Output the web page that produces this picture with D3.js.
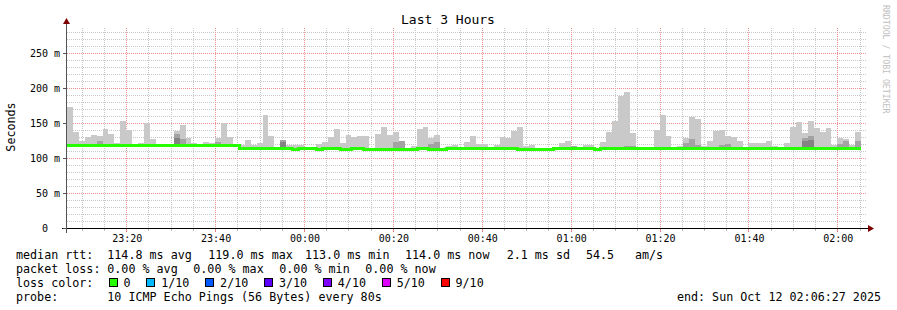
<!DOCTYPE html>
<html>
<head>
<meta charset="utf-8">
<script src="https://cdn.jsdelivr.net/npm/d3@7"></script>
<style>
  html, body { margin: 0; padding: 0; background: #ffffff; }
  svg text { font-family: "DejaVu Sans Mono", monospace; white-space: pre; }
</style>
</head>
<body>
<div id="container"></div>
<script>
"use strict";

// ---- data ----
const endTime = new Date(Date.UTC(2025, 9, 12, 2, 6, 27));
const stepSeconds = 80;
const spanSeconds = 3 * 3600;

// top of the smoke (slowest ping) per 80 s step, ms
const rttMax = [
  173, 137, 124, 130, 133, 131, 141, 134, 122, 153, 140, 120, 122, 150, 127, 120,
  120, 120, 139, 147, 129, 122, 120, 123, 121, 129, 150, 130, 120, 118, 126, 119,
  121, 162, 131, 116, 126, 119, 118, 119, 116, 116, 120, 123, 130, 141, 121, 133,
  130, 131, 131, 115, 134, 144, 133, 137, 124, 115, 117, 141, 144, 129, 133, 115,
  117, 118, 114, 123, 131, 120, 120, 114, 118, 130, 129, 139, 144, 117, 118, 114,
  114, 115, 115, 121, 124, 117, 115, 118, 118, 114, 123, 137, 153, 189, 194, 136,
  114, 115, 115, 140, 161, 131, 115, 117, 129, 159, 156, 117, 124, 139, 140, 131,
  130, 124, 114, 121, 121, 121, 124, 117, 115, 121, 144, 151, 136, 153, 143, 137,
  143, 118, 129, 127, 118, 137
];

// inner smoke band top (middle pings), ms; null where not visible
const rttInner = [
  null, null, null, null, null, 124, null, null, null, null, null, null, null, null, null, null,
  null, null, 134, 127, null, null, null, null, null, 123, null, null, null, null, null, null,
  null, null, null, null, 126, null, null, null, null, null, null, null, null, null, null, null,
  null, null, null, null, null, null, null, 123, 124, null, null, null, null, 120, 123, null,
  null, null, null, null, null, null, null, null, null, null, null, null, null, null, null, null,
  null, null, null, null, null, 117, null, null, null, null, null, null, null, null, 117, 117,
  null, null, null, null, null, null, null, null, 122, 127, 119, null, null, null, 118, 120,
  null, null, null, null, null, null, null, null, null, null, null, null, 129, 131, null, null,
  null, null, 120, 124, null, 124
];

// darkest core band top, ms; null where not visible
const rttCore = [
  null, null, null, null, null, null, null, null, null, null, null, null, null, null, null, null,
  null, null, 128, null, null, null, null, null, null, null, null, null, null, null, null, null,
  null, null, null, null, 123, null, null, null, null, null, null, null, null, null, null, null,
  null, null, null, null, null, null, null, null, null, null, null, null, null, null, null, null,
  null, null, null, null, null, null, null, null, null, null, null, null, null, null, null, null,
  null, null, null, null, null, null, null, null, null, null, null, null, null, null, null, null,
  null, null, null, null, null, null, null, null, null, null, null, null, null, null, null, null,
  null, null, null, null, null, null, null, null, null, null, null, null, 124, 126, null, null,
  null, null, null, null, null, null
];

// median rtt per step, ms
const rttMedian = [
  119, 118, 118, 118, 118, 118, 118, 119, 119, 118, 118, 118, 119, 118, 118, 119,
  118, 118, 118, 119, 119, 118, 118, 119, 118, 118, 119, 118, 118, 114, 114, 114,
  114, 114, 114, 114, 114, 114, 113, 114, 114, 114, 113, 114, 114, 114, 113, 113,
  114, 114, 113, 113, 113, 113, 113, 113, 113, 113, 113, 114, 114, 113, 113, 113,
  114, 114, 114, 114, 114, 114, 114, 114, 114, 114, 114, 115, 113, 113, 113, 113,
  113, 113, 114, 114, 114, 114, 114, 114, 114, 113, 115, 115, 115, 115, 115, 115,
  115, 115, 115, 115, 115, 115, 114, 115, 115, 115, 115, 115, 115, 115, 114, 115,
  115, 115, 115, 115, 115, 115, 115, 115, 115, 115, 115, 115, 115, 115, 115, 115,
  115, 115, 115, 115, 115, 114
];

const yTicks = [0, 50, 100, 150, 200, 250];
const yTickLabels = ["0  ", "50 m", "100 m", "150 m", "200 m", "250 m"];

const medianStats = ["114.8 ms avg", "119.0 ms max", "113.0 ms min", "114.0 ms now", "2.1 ms sd", "54.5", "am/s"];
const lossStats = ["0.00 % avg", "0.00 % max", "0.00 % min", "0.00 % now"];
const lossLabels = ["0", "1/10", "2/10", "3/10", "4/10", "5/10", "9/10"];
const lossColors = ["#26ff00", "#00b8ff", "#0059ff", "#5e00ff", "#7e00ff", "#dd00ff", "#ff0000"];
const probeText = "10 ICMP Echo Pings (56 Bytes) every 80s";
const endText = "end: Sun Oct 12 02:06:27 2025";

// ---- layout ----
const width = 897, height = 310;
const plot = { left: 66, right: 866, top: 28, bottom: 228 };
const yMax = 200 / 0.7; // 0.7 px per ms
const gridColor = "#c8c8c8";
const mgridColor = "#ec9090";
const arrowColor = "#7f0000";
const legendFont = 11.7;

const startTime = new Date(endTime.getTime() - spanSeconds * 1000);
const stepTime = (i) => new Date(startTime.getTime() + i * stepSeconds * 1000);

const x = d3.scaleUtc().domain([startTime, endTime]).range([plot.left, plot.right]);
const y = d3.scaleLinear().domain([0, yMax]).range([plot.bottom, plot.top]);

const svg = d3.select("#container").append("svg").attr("width", width).attr("height", height);

// Grid: minor first, then major. Horizontal before vertical.
const grid = svg.append("g")
  .attr("stroke-width", 1)
  .attr("stroke-dasharray", "1,1")
  .attr("shape-rendering", "crispEdges");
const minorTimes = x.ticks(d3.utcMinute.every(5));
const majorTimes = x.ticks(d3.utcMinute.every(20));
const isMajorTime = (t) => t.getUTCMinutes() % 20 === 0;
const px = (v) => Math.round(v) + 0.5;

const yMinor = d3.range(10, yMax, 10).filter((v) => v % 50 !== 0);
grid.selectAll(".hminor")
  .data(yMinor)
  .enter().append("line")
  .attr("x1", plot.left + 1).attr("x2", plot.right)
  .attr("y1", (d) => px(y(d))).attr("y2", (d) => px(y(d)))
  .attr("stroke", gridColor);

grid.selectAll(".vminor")
  .data(minorTimes.filter((t) => !isMajorTime(t)))
  .enter().append("line")
  .attr("x1", (d) => px(x(d))).attr("x2", (d) => px(x(d)))
  .attr("y1", plot.top).attr("y2", plot.bottom)
  .attr("stroke", gridColor);

grid.selectAll(".hmajor")
  .data(yTicks.filter((v) => v > 0))
  .enter().append("line")
  .attr("x1", plot.left + 1).attr("x2", plot.right)
  .attr("y1", (d) => px(y(d))).attr("y2", (d) => px(y(d)))
  .attr("stroke", mgridColor);

grid.selectAll(".vmajor")
  .data(majorTimes)
  .enter().append("line")
  .attr("x1", (d) => px(x(d))).attr("x2", (d) => px(x(d)))
  .attr("y1", plot.top).attr("y2", plot.bottom)
  .attr("stroke", mgridColor);

// Smoke bands.
const steps = rttMax.map((v, i) => ({
  t0: stepTime(i), t1: stepTime(i + 1),
  max: v, inner: rttInner[i], core: rttCore[i], med: rttMedian[i]
}));

function drawBand(key, color) {
  svg.append("g")
    .attr("shape-rendering", "crispEdges")
    .selectAll("rect")
    .data(steps.filter((d) => d[key] != null && d[key] > d.med))
    .enter().append("rect")
    .attr("x", (d) => Math.round(x(d.t0)) + 1)
    .attr("width", (d) => Math.round(x(d.t1)) - Math.round(x(d.t0)))
    .attr("y", (d) => Math.round(y(d[key])))
    .attr("height", (d) => Math.round(y(d.med)) - Math.round(y(d[key])))
    .attr("fill", color);
}
drawBand("max", "#c9c9c9");
drawBand("inner", "#a3a3a3");
drawBand("core", "#838383");

// Median line (all steps had 0 loss).
const medianPts = steps.map((d) => [d.t0, d.med]);
medianPts.push([steps[steps.length - 1].t1, steps[steps.length - 1].med]);
svg.append("path")
  .datum(medianPts)
  .attr("fill", "none")
  .attr("stroke", lossColors[0])
  .attr("stroke-width", 3)
  .attr("shape-rendering", "crispEdges")
  .attr("d", d3.line().x((d) => Math.round(x(d[0])) + 1).y((d) => Math.round(y(d[1])) + 0.5).curve(d3.curveStepAfter));

// Axes.
svg.append("line")
  .attr("x1", plot.left - 4).attr("x2", plot.right + 3)
  .attr("y1", plot.bottom + 0.5).attr("y2", plot.bottom + 0.5)
  .attr("stroke", "#000").attr("stroke-width", 1);
svg.append("line")
  .attr("x1", plot.left + 0.5).attr("x2", plot.left + 0.5)
  .attr("y1", plot.bottom + 5).attr("y2", plot.top - 4)
  .attr("stroke", "#555").attr("stroke-width", 1);
svg.append("path")
  .attr("d", `M${plot.right + 2},${plot.bottom - 3} L${plot.right + 8},${plot.bottom + 0.5} L${plot.right + 2},${plot.bottom + 4} Z`)
  .attr("fill", arrowColor);
svg.append("path")
  .attr("d", `M${plot.left - 3},${plot.top - 4} L${plot.left + 0.5},${plot.top - 10} L${plot.left + 4},${plot.top - 4} Z`)
  .attr("fill", arrowColor);

// Tick marks.
svg.selectAll(".xtick")
  .data(minorTimes)
  .enter().append("line")
  .attr("x1", (d) => px(x(d))).attr("x2", (d) => px(x(d)))
  .attr("y1", plot.bottom + 1).attr("y2", (d) => plot.bottom + (isMajorTime(d) ? 4 : 3))
  .attr("stroke", (d) => (isMajorTime(d) ? "#e88080" : "#bbbbbb"));
svg.selectAll(".ytick")
  .data(yTicks)
  .enter().append("line")
  .attr("x1", plot.left - 3).attr("x2", plot.left)
  .attr("y1", (d) => px(y(d))).attr("y2", (d) => px(y(d)))
  .attr("stroke", "#555");

// Tick labels.
svg.append("g")
  .style("font-size", "10px")
  .selectAll("text")
  .data(majorTimes)
  .enter().append("text")
  .attr("x", (d) => x(d) + 1)
  .attr("y", 241.5)
  .attr("text-anchor", "middle")
  .text(d3.utcFormat("%H:%M"));

svg.append("g")
  .style("font-size", "10px")
  .selectAll("text")
  .data(yTicks)
  .enter().append("text")
  .attr("x", 60)
  .attr("y", (d) => y(d) + 3.5)
  .attr("text-anchor", "end")
  .text((d, i) => yTickLabels[i]);

// Title, axis label, watermark.
svg.append("text")
  .attr("x", 448).attr("y", 24)
  .attr("text-anchor", "middle")
  .style("font-size", "13px")
  .text("Last 3 Hours");

svg.append("text")
  .attr("transform", "translate(15,127) rotate(-90)")
  .attr("text-anchor", "middle")
  .style("font-size", "11.7px")
  .text("Seconds");

svg.append("text")
  .attr("transform", "translate(883,5) rotate(90)")
  .attr("text-anchor", "start")
  .style("font-size", "8.2px")
  .attr("fill", "#c0c0c0")
  .text("RRDTOOL / TOBI OETIKER");

// Legend.
const legend = svg.append("g").style("font-size", `${legendFont}px`);
const rowY = [259, 273, 287, 301];
const valueX = 107.3;

legend.append("text").attr("x", 16).attr("y", rowY[0]).text("median rtt:");
const medianX = [107.3, 208.3, 305, 405, 506.7, 586, 635];
medianStats.forEach((s, i) => legend.append("text").attr("x", medianX[i]).attr("y", rowY[0]).text(s));

legend.append("text").attr("x", 16).attr("y", rowY[1]).text("packet loss:");
lossStats.forEach((s, i) => legend.append("text").attr("x", valueX + i * 86).attr("y", rowY[1]).text(s));

legend.append("text").attr("x", 16).attr("y", rowY[2]).text("loss color:");
let lx = 108.5;
lossLabels.forEach((s, i) => {
  legend.append("rect")
    .attr("x", Math.round(lx) + 0.5).attr("y", rowY[2] - 8.5)
    .attr("width", 8).attr("height", 8)
    .attr("fill", lossColors[i]).attr("stroke", "#000").attr("stroke-width", 1);
  legend.append("text").attr("x", lx + 15).attr("y", rowY[2]).text(s);
  lx += 15 + s.length * 7.04 + 15.7;
});

legend.append("text").attr("x", 16).attr("y", rowY[3]).text("probe:");
legend.append("text").attr("x", valueX).attr("y", rowY[3]).text(probeText);
legend.append("text").attr("x", 881).attr("y", rowY[3]).attr("text-anchor", "end").text(endText);
</script>
</body>
</html>
